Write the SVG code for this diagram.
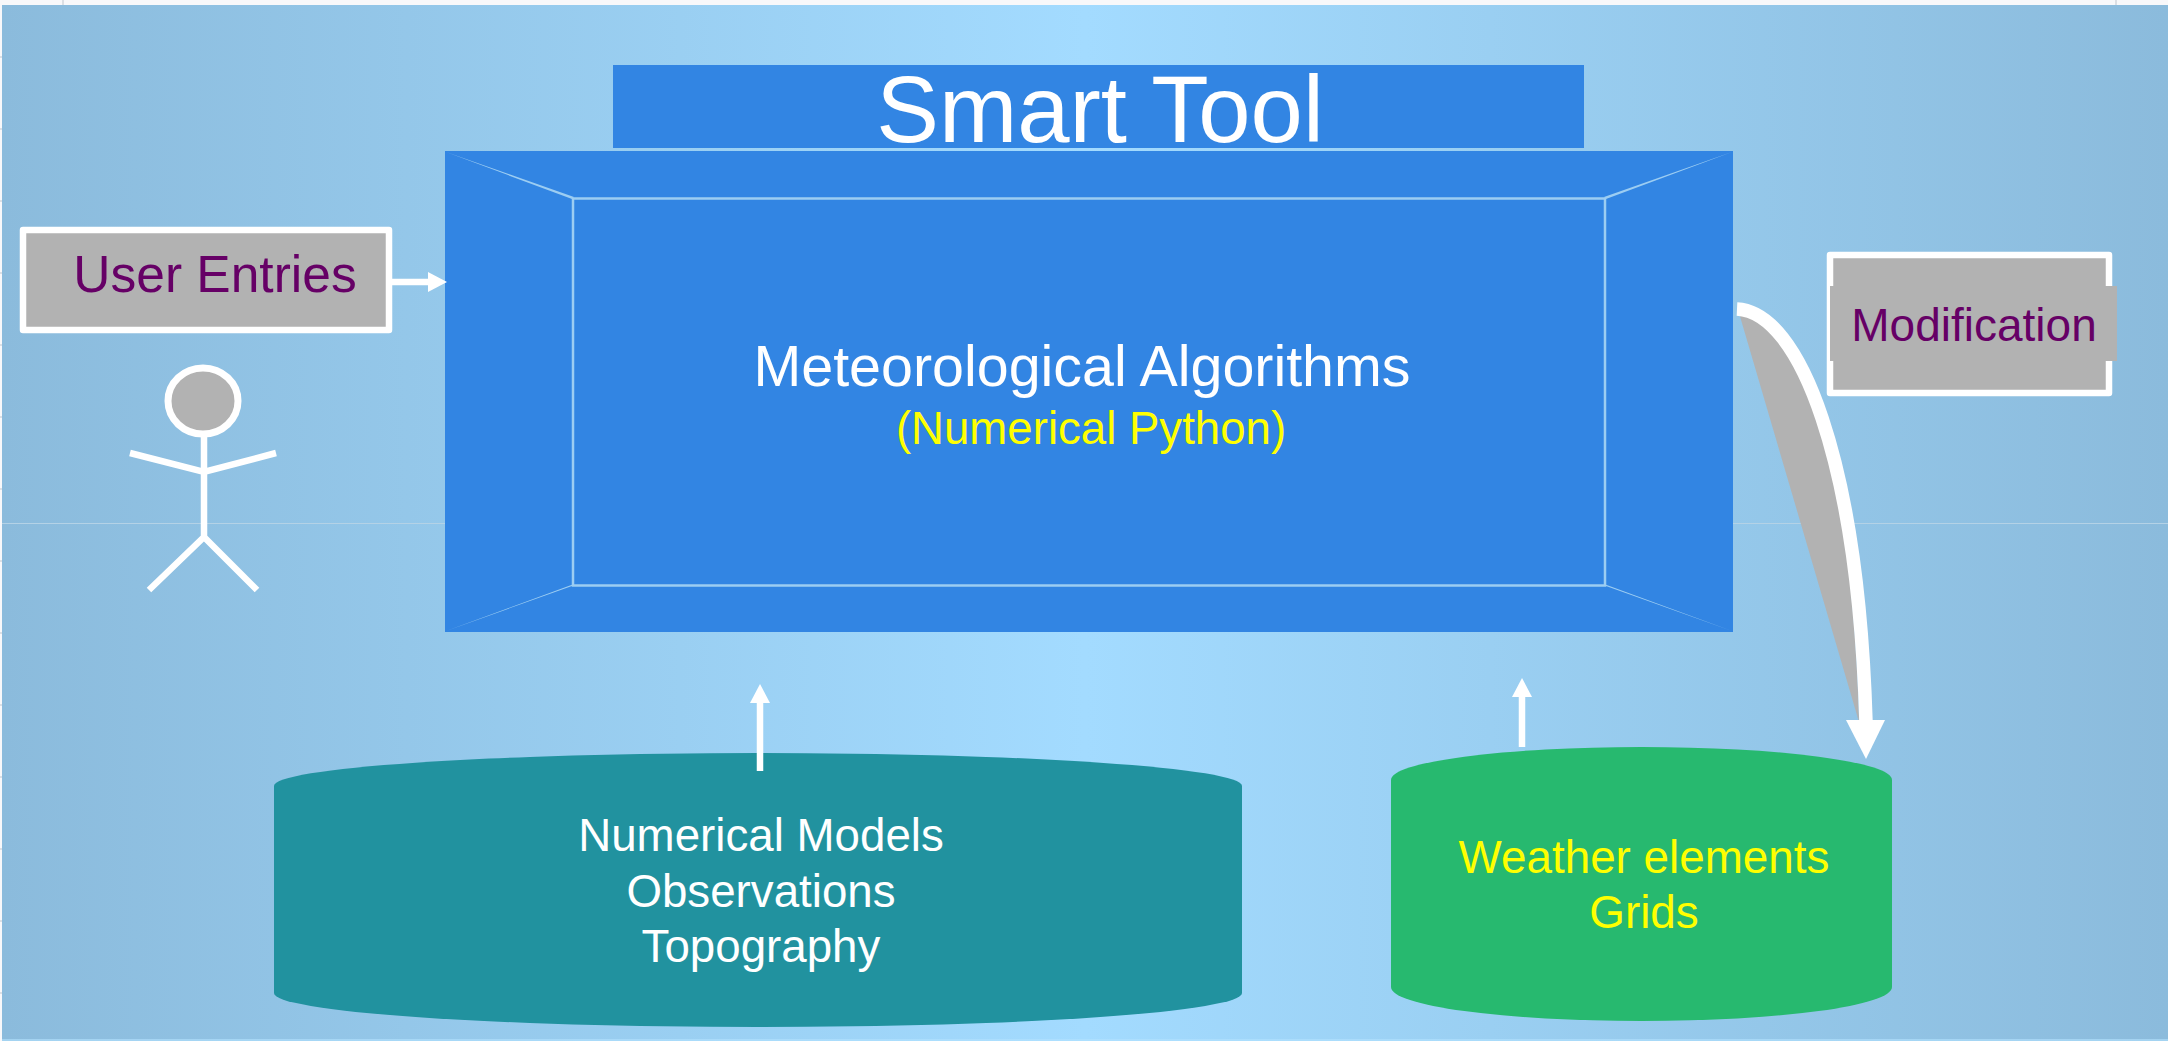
<svg xmlns="http://www.w3.org/2000/svg" width="2168" height="1041" viewBox="0 0 2168 1041">
<style>
text{font-family:"Liberation Sans",Arial,sans-serif;text-anchor:middle}
.w{fill:#fff}.y{fill:#ff0}.p{fill:#660066}
.bevel{fill:#9ccdf2}
.ln{stroke:#fff;fill:none}
.tick{fill:#dcdfe4}
</style>
<defs>
<linearGradient id="bg" x1="0" x2="1" y1="0" y2="0">
<stop offset="0" stop-color="#8bbbdc"/><stop offset="0.5" stop-color="#a3dbff"/><stop offset="1" stop-color="#8bbbdc"/>
</linearGradient>
</defs>
<rect width="2168" height="1041" fill="#f8f8fa"/>
<rect x="2" y="5" width="2166" height="1036" fill="url(#bg)"/>
<rect x="2" y="1039" width="2166" height="2" fill="#b4e2ff" opacity="0.6"/>
<rect x="2" y="523" width="2166" height="1" fill="#b4d2e6"/>
<path class="tick" d="M0 56h2v2H0ZM0 128h2v2H0ZM0 200h2v2H0ZM0 272h2v2H0ZM0 344h2v2H0ZM0 416h2v2H0ZM0 488h2v2H0ZM0 560h2v2H0ZM0 632h2v2H0ZM0 704h2v2H0ZM0 776h2v2H0ZM0 848h2v2H0ZM0 920h2v2H0ZM0 992h2v2H0ZM62 0h2v5h-2ZM2115 0h2v5h-2Z"/>
<g id="smart-tool">
<rect x="613" y="65" width="971" height="83" fill="#3285e3"/>
<text x="1100" y="142" font-size="94" class="w">Smart Tool</text>
</g>
<g id="algorithms">
<rect x="445" y="151" width="1288" height="481" fill="#3285e3"/>
<path class="bevel" d="M446 152L574 197L572 199ZM1732 152L1604 197L1606 199ZM446 631L574 584L572 586ZM1732 631L1604 584L1606 586Z"/>
<rect x="573" y="198.500" width="1032" height="387" fill="none" stroke="#9ccdf2" stroke-width="2.500"/>
<text x="1082" y="386" font-size="57.400" class="w">Meteorological Algorithms</text>
<text x="1091" y="444" font-size="45.600" class="y">(Numerical Python)</text>
</g>
<g id="user-entries">
<rect x="23" y="230" width="366" height="100" fill="#b2b2b2" stroke="#fff" stroke-width="6.500" stroke-linejoin="round"/>
<text x="215" y="292" font-size="51.500" class="p">User Entries</text>
</g>
<g id="user-figure">
<ellipse cx="203" cy="401" rx="35" ry="33" fill="#b2b2b2" stroke="#fff" stroke-width="7"/>
<path class="ln" stroke-width="6.500" d="M204 436V537M130 453L204 472L276 453M149 590L204 537L257 590"/>
</g>
<g id="modification">
<rect x="1830" y="255" width="279" height="138" fill="#b2b2b2" stroke="#fff" stroke-width="6.500" stroke-linejoin="round"/>
<rect x="1830" y="286" width="287" height="75" fill="#b2b2b2"/>
<text x="1974" y="341" font-size="46" class="p">Modification</text>
</g>
<g id="numerical-models">
<path d="M274 786A484 33 0 0 1 1242 786V993A484 34 0 0 1 274 993Z" fill="#21929f"/>
<text x="761" y="851" font-size="45.700" class="w">Numerical Models</text>
<text x="761" y="907" font-size="45.700" class="w">Observations</text>
<text x="761" y="962" font-size="45.700" class="w">Topography</text>
</g>
<g id="weather-grids">
<path d="M1391 780A250.500 33 0 0 1 1892 780V987A250.500 34 0 0 1 1391 987Z" fill="#27b96f"/>
<text x="1644" y="873" font-size="45.800" class="y">Weather elements</text>
<text x="1644" y="928" font-size="45.800" class="y">Grids</text>
</g>
<g id="connectors">
<path d="M392 282H430" class="ln" stroke-width="6.500"/><path d="M428 272L447 282L428 292Z" fill="#fff"/>
<path d="M760 771V700" class="ln" stroke-width="6.500"/><path d="M750 703L760 684L770 703Z" fill="#fff"/>
<path d="M1522 747V695" class="ln" stroke-width="6.500"/><path d="M1512 697L1522 678L1532 697Z" fill="#fff"/>
<path d="M1739 313C1800 316 1852 460 1859 722Z" fill="#b2b2b2"/>
<path d="M1737 309C1800 312 1858 460 1866 722" class="ln" stroke-width="13.500"/>
<path d="M1846 720H1885L1866 759Z" fill="#fff"/>
</g>
</svg>
